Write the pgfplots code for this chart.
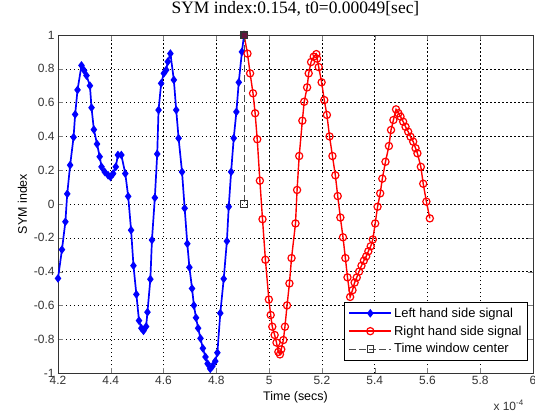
\documentclass[border=0pt]{standalone}
\usepackage{fontspec}
\setmainfont{Liberation Sans}
\newfontfamily\titlefont{Liberation Serif}
\usepackage{pgfplots}
\pgfplotsset{compat=1.18}
\definecolor{winsq}{RGB}{100,20,60}
\begin{document}
\begin{tikzpicture}[x=1bp,y=1bp]
\begin{axis}[
    scale only axis, width=475bp, height=338bp,
    xmin=4.2, xmax=6, ymin=-1, ymax=1,
    xtick={4.2,4.4,4.6,4.8,5,5.2,5.4,5.6,5.8,6},
    xticklabels={4.2,4.4,4.6,4.8,5,5.2,5.4,5.6,5.8,6},
    ytick={-1,-0.8,-0.6,-0.4,-0.2,0,0.2,0.4,0.6,0.8,1},
    yticklabels={-1,-0.8,-0.6,-0.4,-0.2,0,0.2,0.4,0.6,0.8,1},
    tick align=inside, major tick length=5bp,
    xtick pos=both, ytick pos=both,
    ticklabel style={font=\fontsize{12}{14}\selectfont, text=black!80},
    grid=major,
    major grid style={black, line width=0.5bp, dash pattern=on 1.5bp off 2.5bp},
    axis line style={black!80, line width=0.6bp},
    title={SYM index:0.154, t0=0.00049[sec]},
    title style={font=\titlefont\fontsize{17.5}{20}\selectfont, inner sep=0pt, anchor=south, yshift=13bp},
    xlabel={Time (secs)},
    ylabel={SYM index},
    label style={font=\fontsize{12.5}{15}\selectfont},
    legend style={at={(0.989,0.038)}, anchor=south east,
      font=\fontsize{13}{16}\selectfont, draw=black, fill=white,
      inner xsep=4bp, inner ysep=3.5bp, row sep=3bp},
    legend cell align=left,
    legend image code/.code={
      \draw[mark repeat=2, mark phase=2] plot coordinates {(0bp,0bp) (21bp,0bp) (42bp,0bp)};},
  ]
  \addplot[blue, line width=1.7bp, mark=diamond*, mark size=3bp] coordinates {
      (4.200,-0.44) (4.215,-0.27) (4.228,-0.105) (4.235,0.06) (4.246,0.23)
      (4.259,0.395) (4.265,0.53) (4.274,0.675) (4.289,0.82) (4.299,0.79)
      (4.308,0.76) (4.321,0.70) (4.327,0.57) (4.336,0.44) (4.348,0.355)
      (4.358,0.28) (4.365,0.22) (4.377,0.19) (4.390,0.17) (4.399,0.16)
      (4.409,0.18) (4.419,0.22) (4.427,0.29) (4.440,0.29) (4.455,0.18)
      (4.466,0.045) (4.477,-0.155) (4.486,-0.365) (4.497,-0.535) (4.507,-0.69)
      (4.516,-0.735) (4.524,-0.75) (4.534,-0.725) (4.539,-0.64) (4.550,-0.445)
      (4.556,-0.213) (4.567,0.037) (4.576,0.296) (4.581,0.556) (4.591,0.714)
      (4.601,0.773) (4.610,0.793) (4.616,0.842) (4.626,0.89) (4.639,0.734)
      (4.648,0.556) (4.657,0.389) (4.670,0.19) (4.680,-0.025) (4.690,-0.235)
      (4.698,-0.375) (4.708,-0.50) (4.715,-0.60) (4.723,-0.673) (4.731,-0.735)
      (4.740,-0.795) (4.749,-0.854) (4.759,-0.905) (4.767,-0.945) (4.777,-0.975)
      (4.785,-0.96) (4.796,-0.93) (4.804,-0.88) (4.815,-0.646) (4.828,-0.443)
      (4.840,-0.22) (4.847,-0.016) (4.856,0.19) (4.866,0.39) (4.876,0.545)
      (4.885,0.72) (4.897,0.90) (4.905,1.0)
    };
  \addlegendentry{Left hand side signal}
  \addplot[red, line width=1.4bp, mark=o, mark size=3.6bp, mark options={line width=1.2bp}] coordinates {
      (4.905,1.0) (4.918,0.89) (4.928,0.773) (4.939,0.655) (4.947,0.537)
      (4.955,0.383) (4.965,0.138) (4.975,-0.09) (4.986,-0.33) (4.999,-0.565)
      (5.006,-0.657) (5.012,-0.726) (5.021,-0.775) (5.028,-0.82) (5.035,-0.875)
      (5.041,-0.89) (5.046,-0.86) (5.054,-0.805) (5.060,-0.726) (5.068,-0.60)
      (5.077,-0.47) (5.085,-0.32) (5.100,-0.115) (5.106,0.083) (5.114,0.284)
      (5.126,0.493) (5.133,0.605) (5.144,0.69) (5.150,0.773) (5.159,0.84)
      (5.169,0.872) (5.179,0.887) (5.182,0.86) (5.188,0.81) (5.199,0.72)
      (5.209,0.615) (5.219,0.527) (5.229,0.40) (5.240,0.284) (5.251,0.17)
      (5.260,0.047) (5.270,-0.08) (5.280,-0.197) (5.289,-0.32) (5.297,-0.434)
      (5.307,-0.55) (5.316,-0.51) (5.324,-0.465) (5.332,-0.435) (5.341,-0.40)
      (5.350,-0.365) (5.359,-0.335) (5.368,-0.31) (5.376,-0.28) (5.385,-0.25)
      (5.393,-0.21) (5.402,-0.115) (5.411,-0.016) (5.421,0.063) (5.429,0.15)
      (5.441,0.25) (5.454,0.343) (5.462,0.438) (5.471,0.497) (5.481,0.56)
      (5.490,0.537) (5.498,0.517) (5.508,0.487) (5.517,0.457) (5.527,0.428)
      (5.536,0.398) (5.546,0.369) (5.555,0.33) (5.562,0.30) (5.575,0.22)
      (5.584,0.12) (5.596,0.014) (5.609,-0.085)
    };
  \addlegendentry{Right hand side signal}
  \addplot[black!70, line width=0.8bp, dash pattern=on 7bp off 3bp,
    mark=square, mark size=3.2bp, mark options={solid, black!80}] coordinates {
      (4.905,1.0) (4.905,0.0)
    };
  \addlegendentry{Time window center}
  \addplot[forget plot, only marks, mark=square*, mark size=3.2bp,
    mark options={fill=winsq, draw=black!80}] coordinates {(4.905,1.0)};
\end{axis}
\node[anchor=west, font=\fontsize{12}{14}\selectfont, text=black!80]
  at ([shift={(-43bp,-32bp)}]current axis.south east) {x 10\raisebox{5bp}{\fontsize{8}{9}\selectfont -4}};
\pgfresetboundingbox
\path ([shift={(-58bp,-41bp)}]current axis.south west) rectangle ([shift={(2bp,35bp)}]current axis.north east);
\end{tikzpicture}
\end{document}
